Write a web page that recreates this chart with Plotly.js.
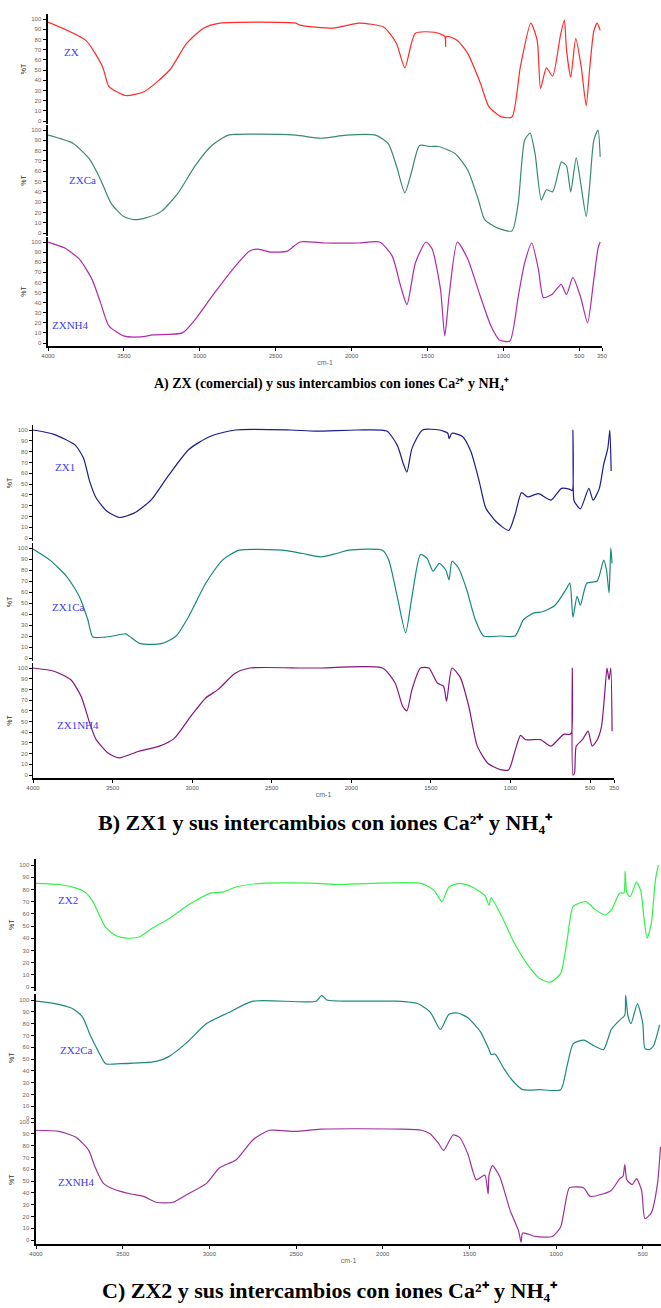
<!DOCTYPE html>
<html>
<head>
<meta charset="utf-8">
<script src="https://cdn.plot.ly/plotly-3.0.1.min.js"></script>
<style>html,body{margin:0;padding:0;background:#fff;}#chart{width:661px;height:1308px;}</style>
</head>
<body>
<div id="chart"></div>
<script>
// ---------- DATA (wavenumber cm-1, %T) ----------
// Panel A
const zx_wn = [4000,3751,3640,3599,3488,3364,3198,3087,2976,2866,2368,2340,2119,1953,1787,1704,1649,1580,1455,1386,1380,1376,1303,1234,1151,1095,1012,943,888,819,777,755,716,675,625,598,584,556,523,487,454,432,404,382,362];
const zx_t  = [97,79,53,34,25,29,50,76,91,96,96,94,91,96,92,76,52,86,87,83,73,83,79,66,37,14,4,4,53,96,79,32,52,44,83,99,70,43,81,53,15,50,88,96,89];
const zxca_wn = [4000,3834,3723,3654,3585,3502,3433,3350,3253,3142,3032,2921,2811,2645,2368,2202,2036,1842,1759,1704,1649,1607,1552,1483,1427,1317,1234,1164,1123,1040,943,902,860,824,791,750,716,675,617,584,556,520,487,454,432,404,376,362];
const zxca_t  = [95,87,71,52,29,16,13,15,21,39,65,85,95,96,95,92,95,95,87,65,39,58,85,84,84,77,61,32,13,5,2,29,90,97,77,32,42,40,69,65,40,73,45,16,45,90,100,74];
const zxnh4_wn = [4000,3889,3793,3710,3654,3599,3502,3391,3308,3115,3032,2921,2783,2672,2617,2534,2423,2340,2174,1953,1815,1732,1676,1635,1580,1510,1469,1414,1386,1358,1303,1234,1151,1082,1026,957,902,860,813,769,736,680,619,584,542,492,445,404,376,362];
const zxnh4_t  = [100,94,83,63,40,17,7,6,8,10,23,46,73,91,93,90,91,100,99,99,100,86,56,38,79,100,93,53,7,46,100,83,46,17,3,2,46,79,99,73,45,48,58,48,65,46,20,63,94,100];
// Panel B
const zx1_wn = [4000,3868,3735,3683,3643,3603,3537,3458,3365,3259,3153,3021,2889,2730,2386,2228,1963,1778,1712,1672,1651,1619,1553,1447,1394,1386,1368,1302,1249,1196,1156,1090,1011,971,931,892,825,746,680,627,612,608,605,600,561,508,481,442,415,389,376,368];
const zx1_t  = [100,96,86,74,52,37,25,19,23,35,57,82,94,100,100,99,100,99,86,68,61,83,100,100,97,92,97,94,80,52,28,15,7,22,42,38,41,35,46,45,44,100,40,34,27,46,35,46,68,83,100,62];
const zx1ca_wn = [4000,3894,3788,3709,3656,3624,3550,3497,3418,3378,3325,3193,3101,3021,2915,2810,2704,2439,2307,2188,2095,2016,1804,1765,1712,1659,1619,1566,1526,1487,1447,1407,1386,1368,1328,1275,1222,1169,1063,971,918,852,799,720,653,627,608,582,561,521,455,415,397,381,370,362];
const zx1ca_t  = [99,89,74,56,35,19,19,20,22,18,13,13,20,38,68,89,98,98,95,92,95,98,98,89,56,23,56,94,91,79,86,80,71,88,82,62,35,20,20,20,35,41,42,48,62,68,37,56,48,68,70,89,80,59,100,86];
const zx1nh4_wn = [4000,3868,3762,3696,3643,3603,3524,3458,3339,3206,3114,3008,2915,2836,2730,2638,2307,2201,1804,1725,1677,1651,1619,1566,1513,1460,1421,1402,1368,1315,1262,1209,1143,1063,1011,971,937,905,812,746,667,627,616,612,608,598,587,548,513,487,455,429,410,394,381,370,362];
const zx1nh4_t  = [100,97,89,73,48,33,20,16,22,27,34,55,72,80,95,100,100,100,100,86,64,60,80,100,100,86,83,69,100,91,64,27,11,5,5,23,37,33,33,27,38,38,40,100,0,2,27,33,41,27,33,45,73,100,89,100,41];
// Panel C
const zx2_wn = [4000,3866,3769,3720,3672,3599,3538,3477,3404,3332,3234,3113,2991,2918,2845,2700,2384,2262,2068,1776,1703,1659,1618,1557,1484,1411,1387,1375,1314,1241,1168,1095,1034,974,937,901,828,779,719,682,633,609,602,592,573,536,512,492,475,451,427,410];
const zx2_t  = [85,84,81,78,70,49,42,40,41,48,56,68,77,78,82,85,85,84,85,85,79,70,82,85,82,75,67,73,58,36,19,7,4,11,38,66,70,64,59,63,77,77,95,77,74,86,79,55,40,52,88,100];
const zx2ca_wn = [4000,3891,3793,3733,3684,3635,3599,3514,3307,3234,3137,3016,2894,2748,2384,2352,2323,1922,1800,1727,1667,1618,1569,1509,1436,1387,1375,1351,1302,1253,1193,1095,974,937,901,840,779,726,682,633,604,599,585,568,531,500,488,463,439,403];
const zx2ca_t  = [99,97,93,86,69,55,46,46,48,52,63,80,89,99,99,104,100,99,97,90,75,88,89,85,73,58,54,54,42,32,24,24,24,44,63,66,61,58,75,83,87,104,86,80,97,80,59,58,61,79];
const zx2nh4_wn = [4000,3866,3769,3696,3660,3611,3550,3453,3380,3307,3210,3137,3016,2943,2845,2748,2651,2505,2359,1897,1776,1727,1679,1649,1594,1557,1509,1460,1411,1392,1387,1367,1326,1265,1217,1202,1193,1120,1022,974,925,889,840,804,731,682,633,614,604,592,561,536,507,488,451,415,398];
const zx2nh4_t  = [93,92,87,76,62,48,43,39,37,32,32,38,48,61,68,85,93,92,94,94,93,90,82,76,89,87,73,51,55,39,55,63,54,25,8,-2,6,3,3,11,44,45,44,37,39,42,52,54,64,51,47,52,42,18,23,48,79];

const labels = ["ZX","ZXCa","ZXNH4","ZX1","ZX1Ca","ZX1NH4","ZX2","ZX2Ca","ZXNH4"];
const xTickVals = [4000,3500,3000,2500,2000,1500,1000,500,350];
const xTickText = ["4000","3500","3000","2500","2000","1500","1000","500","350"];
const captions = [
  "A) ZX (comercial) y sus intercambios con iones Ca²⁺ y NH₄⁺",
  "B) ZX1 y sus intercambios con iones Ca²⁺ y NH₄⁺",
  "C) ZX2 y sus intercambios con iones Ca²⁺ y NH₄⁺"
];

// ---------- LAYOUT GEOMETRY (pixels) ----------
const W = 661, H = 1308;
const series = [
  {x: zx_wn, y: zx_t, color: '#ff2a2a'},
  {x: zxca_wn, y: zxca_t, color: '#3a8a6c'},
  {x: zxnh4_wn, y: zxnh4_t, color: '#b02aa8'},
  {x: zx1_wn, y: zx1_t, color: '#1c1c8c'},
  {x: zx1ca_wn, y: zx1ca_t, color: '#17897a'},
  {x: zx1nh4_wn, y: zx1nh4_t, color: '#86157f'},
  {x: zx2_wn, y: zx2_t, color: '#33f24a'},
  {x: zx2ca_wn, y: zx2ca_t, color: '#1e8a7e'},
  {x: zx2nh4_wn, y: zx2nh4_t, color: '#a0309a'}
];
// top (100 %T) and bottom (0 %T) pixel rows of each strip
const strips = [[19,121],[130,233],[242,343],[430,538],[548,658],[668,775],[865,987],[1000,1118],[1122,1240]];
const panelsX = [[48,602,350],[33,614,350],[36,661,395]]; // left px, right px, right-end wavenumber
const labelPos = [[62,52],[67,180],[50,325],[53,467],[50,607],[55,725],[56,900],[58,1050],[56,1182]];
const captionPos = [[331,384,14],[325,822,22],[330,1290,22]];
const yLineW = [2.5,1,2.5];

const YR = [-3,105];
function yDomain(top, bot){
  const h = bot - top;
  const pt = top - h*(YR[1]-100)/100;
  const pb = bot + h*(0-YR[0])/100;
  return [1 - pb/H, 1 - pt/H];
}

const traces = [];
const layout = {
  width: W, height: H,
  margin: {l:0, r:0, t:0, b:0},
  paper_bgcolor: '#fff', plot_bgcolor: 'rgba(0,0,0,0)',
  showlegend: false,
  font: {family: 'Liberation Sans, Arial, sans-serif', color: '#444'},
  annotations: []
};

for (let p = 0; p < 3; p++) {
  const xid = p === 0 ? 'x' : 'x' + (p+1);
  const xkey = p === 0 ? 'xaxis' : 'xaxis' + (p+1);
  const bottomY = 'y' + (p*3 + 3);
  const [l, r, endWn] = panelsX[p];
  layout[xkey] = {
    domain: [l/W, Math.min(r/W, 1)],
    range: [4000, endWn],
    anchor: bottomY,
    showgrid: false, zeroline: false,
    showline: true, linecolor: '#000', linewidth: 2,
    ticks: 'outside', ticklen: 3, tickcolor: '#000',
    tickvals: xTickVals, ticktext: xTickText,
    tickfont: {size: 6, color: '#555'},
    title: {text: 'cm-1', font: {size: 7, color: '#666'}, standoff: 2},
    automargin: false
  };
  for (let k = 0; k < 3; k++) {
    const i = p*3 + k;
    const yid = i === 0 ? 'y' : 'y' + (i+1);
    const ykey = i === 0 ? 'yaxis' : 'yaxis' + (i+1);
    layout[ykey] = {
      domain: yDomain(strips[i][0], strips[i][1]),
      range: YR,
      anchor: xid,
      showgrid: false, zeroline: false,
      showline: true, linecolor: '#000', linewidth: yLineW[p],
      ticks: 'outside', ticklen: 3, tickcolor: '#000',
      tickvals: [0,10,20,30,40,50,60,70,80,90,100],
      tickfont: {size: 6, color: '#666'},
      title: {text: '%T', font: {size: 7, color: '#333'}, standoff: 4},
      automargin: false
    };
    const s = series[i];
    traces.push({
      type: 'scatter', mode: 'lines',
      x: s.x, y: s.y,
      xaxis: xid, yaxis: yid,
      line: {color: s.color, width: 1.2, shape: 'spline', smoothing: 0.6},
      name: labels[i], hoverinfo: 'name+x+y'
    });
    layout.annotations.push({
      xref: 'paper', yref: 'paper',
      x: labelPos[i][0]/W, y: 1 - labelPos[i][1]/H,
      xanchor: 'left', yanchor: 'middle', showarrow: false,
      text: labels[i],
      font: {family: 'Liberation Serif, Times New Roman, serif', size: 11, color: '#3c3cf0'}
    });
  }
  layout.annotations.push({
    xref: 'paper', yref: 'paper',
    x: captionPos[p][0]/W, y: 1 - captionPos[p][1]/H,
    xanchor: 'center', yanchor: 'middle', showarrow: false,
    text: captions[p],
    font: {family: 'Liberation Serif, Times New Roman, serif', size: captionPos[p][2], color: '#000', weight: 'bold'}
  });
}

Plotly.newPlot('chart', traces, layout, {staticPlot: true, displayModeBar: false});
</script>
</body>
</html>
